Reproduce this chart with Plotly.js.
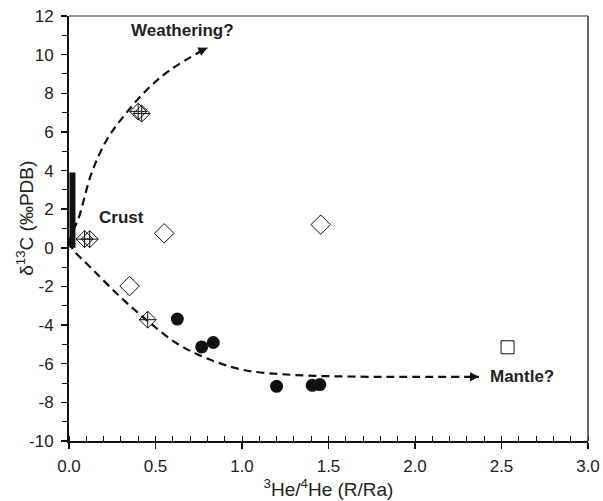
<!DOCTYPE html>
<html><head><meta charset="utf-8">
<script src="https://cdn.plot.ly/plotly-3.0.1.min.js"></script>
<style>html,body{margin:0;padding:0;background:#fff}</style>
</head><body><div id="chart" style="width:603px;height:501px"></div>
<script>
// Data
const crossDiamondX = [0.40, 0.42, 0.09, 0.12, 0.455];
const crossDiamondY = [7.05, 6.95, 0.45, 0.45, -3.72];
const openDiamondX = [0.55, 1.455, 0.35];
const openDiamondY = [0.75, 1.2, -1.98];
const squareX = [2.535];
const squareY = [-5.15];
const circleX = [0.626, 0.767, 0.834, 1.20, 1.406, 1.45];
const circleY = [-3.69, -5.13, -4.9, -7.17, -7.12, -7.08];
const crustX = [0.02, 0.02];
const crustY = [0.0, 3.9];
const weatherX = [0.0, 0.025, 0.058, 0.13, 0.218, 0.314, 0.449, 0.584, 0.80];
const weatherY = [0.3, 0.9, 1.6, 3.86, 5.58, 6.79, 8.17, 9.2, 10.36];
const mantleX = [0.0, 0.025, 0.14, 0.295, 0.449, 0.622, 0.796, 1.008, 1.297, 1.68, 2.0, 2.37];
const mantleY = [0.3, -0.11, -1.15, -2.53, -3.74, -4.94, -5.72, -6.32, -6.58, -6.67, -6.68, -6.68];
const yTickVals = [-10, -8, -6, -4, -2, 0, 2, 4, 6, 8, 10, 12];
const yTickText = ['-10', '-8', '-6', '-4', '-2', '0', '2', '4', '6', '8', '10', '12'];
const xTickVals = [0, 0.5, 1, 1.5, 2, 2.5, 3];
const xTickText = ['0.0', '0.5', '1.0', '1.5', '2.0', '2.5', '3.0'];
const labels = [
  {text: 'Weathering?', x: 0.655, y: 11.25, xanchor: 'center'},
  {text: 'Crust', x: 0.16, y: 1.55, xanchor: 'left'},
  {text: 'Mantle?', x: 2.42, y: -6.65, xanchor: 'left'}
];
const yTitle = 'δ<sup>13</sup>C (‰PDB)';
const xTitle = '<sup>3</sup>He/<sup>4</sup>He (R/Ra)';

const traces = [
  {x: weatherX, y: weatherY, mode: 'lines', line: {color: '#111', width: 2.2, dash: '8px,5px', shape: 'spline'}, hoverinfo: 'skip'},
  {x: mantleX, y: mantleY, mode: 'lines', line: {color: '#111', width: 2.2, dash: '8px,5px', shape: 'spline'}, hoverinfo: 'skip'},
  {x: crustX, y: crustY, mode: 'lines', line: {color: '#111', width: 6}, hoverinfo: 'skip'},
  {x: crossDiamondX, y: crossDiamondY, mode: 'markers', marker: {symbol: 'diamond-cross-open', size: 13, color: '#111', line: {width: 1}}},
  {x: openDiamondX, y: openDiamondY, mode: 'markers', marker: {symbol: 'diamond-open', size: 15, color: '#111', line: {width: 1}}},
  {x: squareX, y: squareY, mode: 'markers', marker: {symbol: 'square-open', size: 13, color: '#111', line: {width: 1}}},
  {x: circleX, y: circleY, mode: 'markers', marker: {symbol: 'circle', size: 13, color: '#111'}}
];

const annotations = labels.map(l => ({
  text: '<b>' + l.text + '</b>', x: l.x, y: l.y, xref: 'x', yref: 'y', showarrow: false,
  xanchor: l.xanchor, yanchor: 'middle', font: {family: 'Liberation Sans, Arial, sans-serif', size: 17, color: '#222'}
}));
// arrowheads at the ends of the dashed curves
annotations.push({x: weatherX[weatherX.length-1], y: weatherY[weatherY.length-1], ax: 0.74, ay: 10.1, axref: 'x', ayref: 'y', xref: 'x', yref: 'y', text: '', showarrow: true, arrowhead: 2, arrowsize: 0.9, arrowwidth: 2, arrowcolor: '#111'});
annotations.push({x: mantleX[mantleX.length-1], y: mantleY[mantleY.length-1], ax: 2.30, ay: -6.68, axref: 'x', ayref: 'y', xref: 'x', yref: 'y', text: '', showarrow: true, arrowhead: 2, arrowsize: 0.9, arrowwidth: 2, arrowcolor: '#111'});
// y-axis title placed as rotated text
annotations.push({text: yTitle, xref: 'paper', yref: 'paper', x: -0.085, y: 0.525, xanchor: 'center', yanchor: 'middle', textangle: -90, showarrow: false, font: {family: 'Liberation Sans, Arial, sans-serif', size: 19, color: '#222'}});

const layout = {
  width: 603, height: 501,
  margin: {l: 69, r: 15, t: 16, b: 60},
  paper_bgcolor: '#fff', plot_bgcolor: '#fff',
  showlegend: false,
  font: {family: 'Liberation Sans, Arial, sans-serif', size: 17, color: '#222'},
  xaxis: {
    range: [0, 3], tickmode: 'array', tickvals: xTickVals, ticktext: xTickText,
    showgrid: false, zeroline: false,
    showline: true, linecolor: '#111', linewidth: 2,
    ticks: 'outside', ticklen: 6, tickwidth: 1.5, tickcolor: '#111', ticklabelstandoff: 3,
    tickfont: {size: 17, color: '#222'},
    minor: {dtick: 0.1, ticks: 'inside', ticklen: 5, tickcolor: '#111', tickwidth: 1},
    title: {text: xTitle, font: {size: 19, color: '#222'}, standoff: 4}
  },
  yaxis: {
    range: [-10, 12], tickmode: 'array', tickvals: yTickVals, ticktext: yTickText,
    showgrid: false, zeroline: false,
    showline: true, linecolor: '#111', linewidth: 2,
    ticks: 'outside', ticklen: 6, tickwidth: 1.5, tickcolor: '#111', ticklabelstandoff: 4,
    tickfont: {size: 17, color: '#222'},
    minor: {dtick: 1, ticks: 'outside', ticklen: 5, tickcolor: '#111', tickwidth: 1}
  },
  shapes: [
    {type: 'line', xref: 'paper', yref: 'paper', x0: 0, x1: 1, y0: 1, y1: 1, line: {color: '#777', width: 1.5}},
    {type: 'line', xref: 'paper', yref: 'paper', x0: 1, x1: 1, y0: 0, y1: 1, line: {color: '#333', width: 1.5}}
  ],
  annotations: annotations
};
Plotly.newPlot('chart', traces, layout, {displayModeBar: false, staticPlot: true});
</script></body></html>
